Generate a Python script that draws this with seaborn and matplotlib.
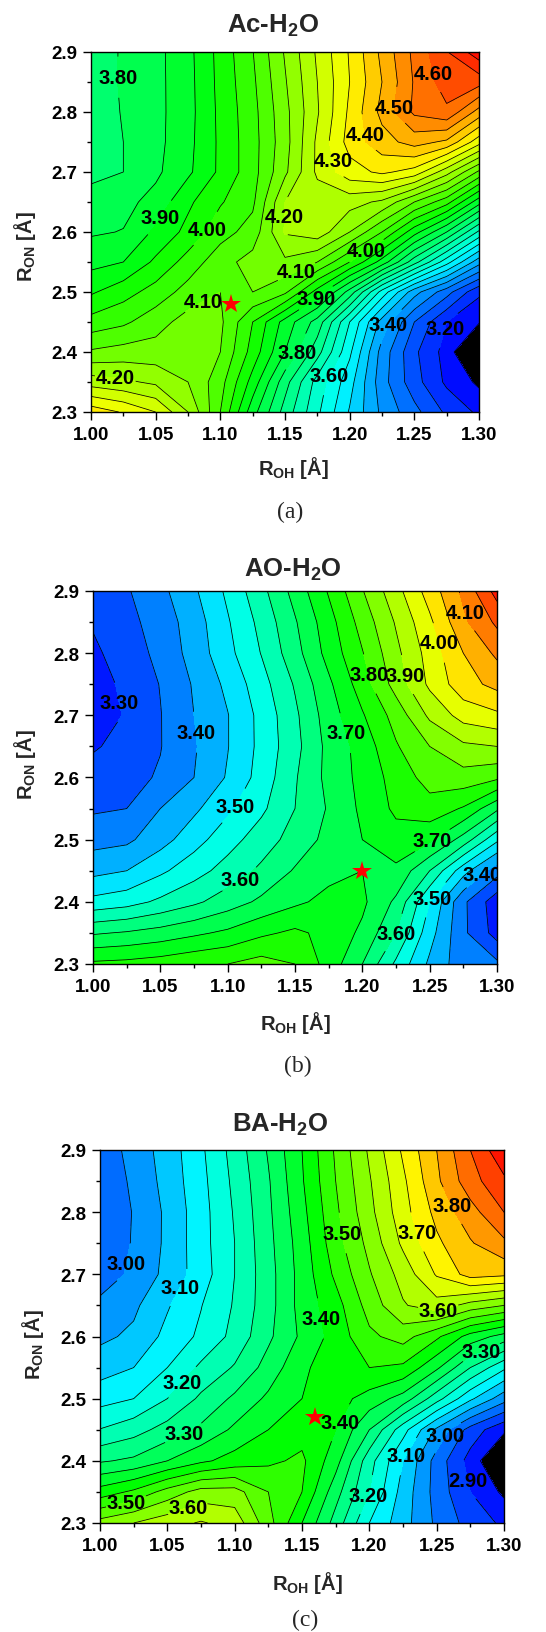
import numpy as np
import matplotlib
matplotlib.use("Agg")
import matplotlib.pyplot as plt
import seaborn as sns
from matplotlib.colors import LinearSegmentedColormap
from matplotlib.ticker import MultipleLocator, FormatStrFormatter

# ---------- DATA ----------

r_oh = [1.000, 1.025, 1.050, 1.075, 1.100, 1.125, 1.150, 1.175, 1.200, 1.225, 1.250, 1.275, 1.300]
r_on = [2.30, 2.35, 2.40, 2.45, 2.50, 2.55, 2.60, 2.65, 2.70, 2.75, 2.80, 2.85, 2.90]

# rows follow r_on (2.30 -> 2.90), columns follow r_oh (1.00 -> 1.30)
e_ac = [
    [4.380, 4.345, 4.300, 4.200, 4.050, 3.870, 3.730, 3.610, 3.495, 3.389, 3.316, 3.240, 3.190],
    [4.226, 4.210, 4.190, 4.150, 4.070, 3.930, 3.770, 3.630, 3.520, 3.370, 3.270, 3.190, 3.140],
    [4.107, 4.120, 4.120, 4.130, 4.100, 3.980, 3.850, 3.720, 3.560, 3.380, 3.260, 3.180, 3.050],
    [4.019, 4.040, 4.080, 4.120, 4.110, 4.000, 3.880, 3.780, 3.600, 3.430, 3.300, 3.200, 3.155],
    [3.943, 3.980, 4.020, 4.070, 4.100, 4.100, 4.060, 3.930, 3.780, 3.580, 3.420, 3.320, 3.210],
    [3.884, 3.900, 3.960, 4.020, 4.080, 4.120, 4.140, 4.100, 4.000, 3.880, 3.720, 3.570, 3.420],
    [3.844, 3.852, 3.910, 3.965, 4.030, 4.070, 4.205, 4.230, 4.150, 4.050, 3.920, 3.800, 3.640],
    [3.815, 3.835, 3.867, 3.940, 3.995, 4.040, 4.200, 4.220, 4.220, 4.190, 4.100, 4.020, 3.870],
    [3.790, 3.800, 3.840, 3.890, 3.960, 4.030, 4.140, 4.260, 4.330, 4.360, 4.330, 4.220, 4.090],
    [3.780, 3.800, 3.835, 3.885, 3.960, 4.030, 4.130, 4.260, 4.370, 4.430, 4.470, 4.440, 4.320],
    [3.775, 3.803, 3.835, 3.882, 3.962, 4.033, 4.135, 4.245, 4.360, 4.465, 4.560, 4.590, 4.480],
    [3.772, 3.806, 3.835, 3.883, 3.965, 4.040, 4.145, 4.250, 4.350, 4.450, 4.555, 4.625, 4.620],
    [3.770, 3.806, 3.835, 3.885, 3.967, 4.048, 4.155, 4.258, 4.355, 4.463, 4.563, 4.647, 4.730],
]

e_ao = [
    [3.760, 3.765, 3.775, 3.790, 3.800, 3.820, 3.800, 3.730, 3.650, 3.540, 3.440, 3.370, 3.360],
    [3.644, 3.655, 3.670, 3.690, 3.710, 3.740, 3.760, 3.735, 3.690, 3.600, 3.470, 3.360, 3.280],
    [3.515, 3.530, 3.560, 3.590, 3.625, 3.660, 3.690, 3.715, 3.710, 3.640, 3.500, 3.360, 3.270],
    [3.435, 3.450, 3.490, 3.530, 3.570, 3.610, 3.655, 3.685, 3.700, 3.690, 3.600, 3.470, 3.370],
    [3.382, 3.390, 3.430, 3.480, 3.530, 3.575, 3.620, 3.665, 3.700, 3.730, 3.710, 3.630, 3.510],
    [3.343, 3.350, 3.400, 3.440, 3.490, 3.540, 3.600, 3.655, 3.710, 3.760, 3.780, 3.745, 3.660],
    [3.319, 3.335, 3.355, 3.400, 3.455, 3.520, 3.595, 3.665, 3.715, 3.770, 3.820, 3.830, 3.810],
    [3.295, 3.315, 3.348, 3.395, 3.448, 3.514, 3.584, 3.665, 3.720, 3.795, 3.850, 3.890, 3.900],
    [3.270, 3.305, 3.348, 3.400, 3.448, 3.515, 3.590, 3.675, 3.745, 3.820, 3.910, 3.970, 3.990],
    [3.280, 3.310, 3.352, 3.405, 3.462, 3.530, 3.605, 3.690, 3.775, 3.870, 3.960, 4.030, 4.065],
    [3.290, 3.325, 3.363, 3.420, 3.485, 3.552, 3.631, 3.718, 3.797, 3.887, 3.970, 4.050, 4.110],
    [3.305, 3.335, 3.372, 3.425, 3.495, 3.565, 3.645, 3.730, 3.820, 3.905, 3.990, 4.090, 4.160],
    [3.320, 3.345, 3.386, 3.442, 3.510, 3.585, 3.668, 3.755, 3.847, 3.932, 4.022, 4.111, 4.220],
]

e_ba = [
    [3.570, 3.600, 3.630, 3.655, 3.630, 3.520, 3.400, 3.280, 3.150, 3.070, 2.990, 2.930, 2.890],
    [3.422, 3.460, 3.520, 3.570, 3.570, 3.500, 3.450, 3.320, 3.200, 3.080, 2.980, 2.900, 2.840],
    [3.294, 3.310, 3.350, 3.390, 3.420, 3.440, 3.460, 3.370, 3.220, 3.100, 2.980, 2.880, 2.780],
    [3.202, 3.230, 3.270, 3.310, 3.360, 3.400, 3.430, 3.400, 3.300, 3.170, 3.040, 2.930, 2.860],
    [3.131, 3.150, 3.200, 3.260, 3.310, 3.360, 3.400, 3.420, 3.380, 3.330, 3.220, 3.110, 3.020],
    [3.078, 3.100, 3.150, 3.210, 3.255, 3.320, 3.390, 3.430, 3.450, 3.440, 3.360, 3.250, 3.160],
    [3.039, 3.060, 3.115, 3.160, 3.215, 3.290, 3.360, 3.420, 3.490, 3.520, 3.460, 3.380, 3.330],
    [3.011, 3.040, 3.095, 3.148, 3.205, 3.280, 3.370, 3.430, 3.520, 3.595, 3.630, 3.580, 3.550],
    [2.975, 3.010, 3.065, 3.125, 3.200, 3.280, 3.370, 3.460, 3.545, 3.620, 3.705, 3.770, 3.760],
    [2.955, 3.005, 3.060, 3.130, 3.200, 3.285, 3.375, 3.480, 3.565, 3.660, 3.740, 3.795, 3.840],
    [2.955, 3.003, 3.060, 3.130, 3.205, 3.290, 3.385, 3.490, 3.585, 3.680, 3.765, 3.830, 3.900],
    [2.960, 3.010, 3.068, 3.135, 3.212, 3.295, 3.395, 3.500, 3.595, 3.690, 3.790, 3.880, 3.940],
    [2.965, 3.020, 3.072, 3.141, 3.220, 3.305, 3.400, 3.507, 3.608, 3.708, 3.800, 3.900, 3.990],
]

# lowest and highest contour level of each map (step 0.05)
level_range = {"a": (3.15, 4.75), "b": (3.25, 4.25), "c": (2.85, 4.00)}

# minimum marked with a star
star_ac = (1.108, 2.480)
star_ao = (1.200, 2.450)
star_ba = (1.160, 2.470)

titles = ["Ac-H$_2$O", "AO-H$_2$O", "BA-H$_2$O"]
captions = ["(a)", "(b)", "(c)"]

# contour labels: (level, R_OH, R_ON)
labels_ac = [(3.80, 1.022, 2.858), (4.60, 1.250, 2.858), (4.50, 1.226, 2.810),
             (4.40, 1.214, 2.763), (4.30, 1.182, 2.716), (3.90, 1.053, 2.624),
             (4.00, 1.089, 2.605), (4.20, 1.163, 2.624), (4.00, 1.212, 2.572),
             (4.10, 1.159, 2.533), (4.10, 1.089, 2.474), (3.90, 1.176, 2.483),
             (3.40, 1.238, 2.438), (3.20, 1.276, 2.438), (3.80, 1.159, 2.400),
             (3.60, 1.185, 2.360), (4.20, 1.019, 2.360)]
labels_ao = [(3.30, 1.019, 2.720), (3.40, 1.077, 2.673), (3.50, 1.109, 2.549),
             (3.60, 1.112, 2.426), (3.70, 1.190, 2.673), (3.80, 1.205, 2.766),
             (3.90, 1.236, 2.766), (4.00, 1.253, 2.814), (4.10, 1.269, 2.860),
             (3.70, 1.253, 2.495), (3.40, 1.285, 2.455), (3.50, 1.253, 2.404),
             (3.60, 1.228, 2.345)]
labels_ba = [(3.00, 1.016, 2.719), (3.10, 1.064, 2.673), (3.20, 1.067, 2.515),
             (3.30, 1.063, 2.440), (3.50, 1.020, 2.328), (3.60, 1.067, 2.313),
             (3.40, 1.162, 2.628), (3.50, 1.182, 2.767), (3.70, 1.234, 2.767),
             (3.80, 1.264, 2.813), (3.60, 1.252, 2.636), (3.30, 1.282, 2.580),
             (3.40, 1.183, 2.456), (3.00, 1.257, 2.440), (3.10, 1.229, 2.406),
             (2.90, 1.265, 2.365), (3.20, 1.200, 2.344)]

# ---------- STYLE ----------

sns.set_theme(style="ticks")
plt.rcParams["font.family"] = ["Liberation Sans", "DejaVu Sans"]
plt.rcParams["font.weight"] = "bold"
plt.rcParams["mathtext.fontset"] = "custom"
plt.rcParams["mathtext.rm"] = "Liberation Sans:bold"
plt.rcParams["mathtext.bf"] = "Liberation Sans:bold"
plt.rcParams["mathtext.default"] = "bf"

rainbow = LinearSegmentedColormap.from_list(
    "rainbow5", ["#0000ff", "#00ffff", "#00ff00", "#ffff00", "#ff0000"])

# ---------- FIGURE ----------

fig = plt.figure(figsize=(5.46, 16.33), dpi=100)

W, H = 546.0, 1633.0
# axes boxes in pixels: left, top, right, bottom
boxes = [(91, 53, 479, 413), (93, 592, 497, 965), (100, 1151, 504, 1524)]
title_pos = [(273, 33), (293, 577), (280, 1132)]
xlabel_pos = [(293, 475), (295, 1030), (307, 1590)]
ylabel_pos = [(25, 247), (25, 765), (33, 1345)]
caption_pos = [(290, 512), (298, 1066), (305, 1620)]

panels = [
    (e_ac, "a", star_ac, labels_ac),
    (e_ao, "b", star_ao, labels_ao),
    (e_ba, "c", star_ba, labels_ba),
]

X, Y = np.meshgrid(r_oh, r_on)

for i, (grid, key, star, labels) in enumerate(panels):

    l, t, r, b = boxes[i]
    ax = fig.add_axes([l / W, 1 - b / H, (r - l) / W, (b - t) / H])

    lo, hi = level_range[key]
    levels = np.round(np.arange(lo, hi + 1e-6, 0.05), 2)

    cmap = rainbow.copy()
    cmap.set_under("black")
    cmap.set_over("#ff0000")

    Z = np.array(grid)

    ax.contourf(X, Y, Z, levels=levels, cmap=cmap, vmin=lo, vmax=hi, extend="both")

    # plain lines for the unlabelled levels
    labelled = sorted(set(round(v, 2) for v, _, _ in labels))
    plain = [lv for lv in levels if round(lv, 2) not in labelled]
    ax.contour(X, Y, Z, levels=plain, colors="black", linewidths=0.55)

    # each labelled level gets its own line set so its labels sit on it
    for lv in labelled:
        cs = ax.contour(X, Y, Z, levels=[lv], colors="black", linewidths=0.55)
        spots = [(lx, ly) for v, lx, ly in labels if round(v, 2) == lv]
        ax.clabel(cs, manual=spots, inline=True, inline_spacing=1,
                  fmt="%.2f", fontsize=14.5)
        for txt in cs.labelTexts:
            txt.set_rotation(0)
            txt.set_fontweight("bold")

    ax.plot(star[0], star[1], marker="*", color="red", markersize=15,
            markeredgewidth=0, zorder=5)

    ax.set_xlim(1.0, 1.3)
    ax.set_ylim(2.3, 2.9)

    ax.xaxis.set_major_locator(MultipleLocator(0.05))
    ax.xaxis.set_minor_locator(MultipleLocator(0.025))
    ax.yaxis.set_major_locator(MultipleLocator(0.1))
    ax.yaxis.set_minor_locator(MultipleLocator(0.05))
    ax.xaxis.set_major_formatter(FormatStrFormatter("%.2f"))
    ax.yaxis.set_major_formatter(FormatStrFormatter("%.1f"))

    ax.tick_params(which="both", direction="out", top=False, right=False,
                   width=1.0, colors="black", labelsize=13.5)
    ax.tick_params(which="major", length=6, pad=4)
    ax.tick_params(which="minor", length=3)

    for sp in ax.spines.values():
        sp.set_visible(True)
        sp.set_linewidth(1.0)
        sp.set_color("black")

    tx, ty = title_pos[i]
    fig.text(tx / W, 1 - ty / H, titles[i], ha="center", va="baseline",
             fontsize=18.5, fontweight="bold")

    xx, xy = xlabel_pos[i]
    fig.text(xx / W, 1 - xy / H, "R$_{OH}$ [Å]", ha="center", va="baseline",
             fontsize=14.5, fontweight="bold")

    yx, yy = ylabel_pos[i]
    fig.text(yx / W, 1 - yy / H, "R$_{ON}$ [Å]", ha="center", va="center",
             rotation=90, fontsize=14.5, fontweight="bold")

    cx, cy = caption_pos[i]
    fig.text(cx / W, 1 - cy / H, captions[i], ha="center", va="center",
             fontsize=17, fontweight="normal",
             family=["Liberation Serif", "DejaVu Serif"])

fig.savefig("out.png", dpi=100, facecolor="white")
